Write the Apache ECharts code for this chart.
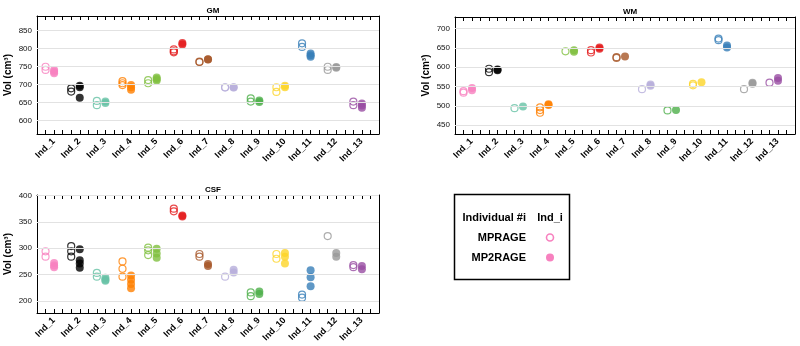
<!DOCTYPE html>
<html>
<head>
<meta charset="utf-8">
<script src="https://cdn.jsdelivr.net/npm/echarts@6/dist/echarts.min.js"></script>
<style>html,body{margin:0;padding:0;background:#fff}#c{width:800px;height:346px}</style>
</head>
<body>
<div id="c"></div>
<script>
const IND_LABELS = ['Ind_1','Ind_2','Ind_3','Ind_4','Ind_5','Ind_6','Ind_7','Ind_8','Ind_9','Ind_10','Ind_11','Ind_12','Ind_13'];
const COLORS = ['#f781bf','#000000','#66c2a5','#ff7f00','#7fbf3f','#e41a1c','#a65628','#b6aedb','#4daf4a','#fcd528','#377eb8','#999999','#984ea3'];

const GM_TICKS = [600,650,700,750,800,850];
const WM_TICKS = [450,500,550,600,650,700];
const CSF_TICKS = [200,250,300,350,400];

const GM_MPRAGE  = [[749,740],[689,680],[654,642],[709,703,698],[712,703],[797,792,789],[763,762],[692,691],[661,652],[692,679],[814,804],[749,740],[652,642]];
const GM_MP2RAGE = [[740,735,731],[696,692,663],[652,648],[698,692,685],[719,715,711],[815,811],[770,769],[692,691],[655,651],[696,692],[786,781,777],[748,746],[647,641,635]];

const WM_MPRAGE  = [[538,534],[596,587],[494],[496,489,482],[641],[644,638],[626,624],[543],[488],[557,553],[674,670],[543],[560]];
const WM_MP2RAGE = [[546,540],[594,592],[498],[504,502],[644,640],[651,648],[628],[552,555],[489],[561],[656,651],[560,557],[572,565]];

const CSF_MPRAGE  = [[294,284],[304,294,284],[253,246],[275,261,246],[301,296,287],[375,370],[289,284],[246],[216,209],[289,280],[212,206],[323],[268,264]];
const CSF_MP2RAGE = [[272,267,264],[298,277,271,263],[244,240,238],[248,240,232,224],[299,290,282],[362,360],[270,266],[259,254],[218,213],[291,284,271],[258,245,228],[291,284],[266,260]];

const X_MIN = 0.5, X_MAX = 13.8333;
const X_TICKS = [];
for (let k = 0; 0.5 + k/3 <= X_MAX + 1e-6; k++) X_TICKS.push(0.5 + k/3);
const LABEL_SHIFT = 0.15;
const X_LABEL_POS = IND_LABELS.map((_, i) => i + 1 + LABEL_SHIFT);

const PANELS = [
  {title:'GM',  mp:GM_MPRAGE,  mp2:GM_MP2RAGE,  ticks:GM_TICKS,  min:562, max:890, grid:{left:37, top:16, width:342, height:118}},
  {title:'WM',  mp:WM_MPRAGE,  mp2:WM_MP2RAGE,  ticks:WM_TICKS,  min:427, max:730, grid:{left:455, top:17, width:340, height:117}},
  {title:'CSF', mp:CSF_MPRAGE, mp2:CSF_MP2RAGE, ticks:CSF_TICKS, min:177, max:401, grid:{left:37, top:195, width:342, height:118}}
];

const FONT = 'Liberation Sans, Arial, sans-serif';
const grids = [], xAxes = [], yAxes = [], series = [], titles = [];

PANELS.forEach((p, g) => {
  grids.push(Object.assign({containLabel:false}, p.grid));
  titles.push({text:p.title, left:p.grid.left + p.grid.width/2, top:p.grid.top - 14, textAlign:'center',
    textStyle:{fontSize:8, fontWeight:'bold', fontFamily:FONT, color:'#000'}});
  const axLine = {show:true, onZero:false, lineStyle:{color:'#000', width:1}};
  xAxes.push({gridIndex:g, type:'value', position:'bottom', min:X_MIN, max:X_MAX, axisLine:axLine,
    axisTick:{show:true, inside:true, length:4, customValues:X_TICKS, lineStyle:{color:'#000'}},
    axisLabel:{show:true, customValues:X_LABEL_POS, rotate:45, margin:6, fontSize:9, fontWeight:'bold', fontFamily:FONT, color:'#000',
      formatter:v => IND_LABELS[Math.round(v - LABEL_SHIFT) - 1] || ''},
    splitLine:{show:false}});
  xAxes.push({gridIndex:g, type:'value', position:'top', min:X_MIN, max:X_MAX, axisLine:axLine,
    axisTick:{show:true, inside:true, length:4, customValues:X_TICKS, lineStyle:{color:'#000'}},
    axisLabel:{show:false}, splitLine:{show:false}});
  yAxes.push({gridIndex:g, type:'value', position:'left', min:p.min, max:p.max, axisLine:axLine,
    axisTick:{show:true, inside:true, length:3, customValues:p.ticks, lineStyle:{color:'#000'}},
    axisLabel:{show:true, customValues:p.ticks, margin:5, fontSize:8, fontFamily:FONT, color:'#111'},
    splitLine:{show:false},
    name:'Vol (cm³)', nameLocation:'middle', nameGap:24,
    nameTextStyle:{fontSize:10, fontWeight:'bold', fontFamily:FONT, color:'#000'}});
  yAxes.push({gridIndex:g, type:'value', position:'right', min:p.min, max:p.max, axisLine:axLine,
    axisTick:{show:true, inside:true, length:4, customValues:p.ticks, lineStyle:{color:'#000'}},
    axisLabel:{show:false}, splitLine:{show:false}});
  const xi = g*2, yi = g*2;
  series.push({type:'scatter', xAxisIndex:xi, yAxisIndex:yi, data:[], z:1, silent:true,
    markLine:{silent:true, symbol:'none', animation:false, label:{show:false},
      lineStyle:{color:'#e2e2e2', width:1, type:'solid'},
      data:p.ticks.filter(v => v < p.max).map(v => ({yAxis:v}))}});
  const mpData = [], mp2Data = [];
  p.mp.forEach((vals, i) => vals.forEach(v => mpData.push({value:[i + 1 - 1/6, v],
    itemStyle:{color:'rgba(255,255,255,0)', borderColor:COLORS[i], borderWidth:1.2}})));
  p.mp2.forEach((vals, i) => vals.forEach(v => mp2Data.push({value:[i + 1 + 1/6, v],
    itemStyle:{color:COLORS[i], borderWidth:0}})));
  series.push({name:'MPRAGE', type:'scatter', xAxisIndex:xi, yAxisIndex:yi, symbol:'circle', symbolSize:7, data:mpData, z:3, animation:false});
  series.push({name:'MP2RAGE', type:'scatter', xAxisIndex:xi, yAxisIndex:yi, symbol:'circle', symbolSize:8, data:mp2Data, z:3, animation:false});
});

const legendText = {fontSize:11, fontWeight:'bold', fontFamily:FONT, fill:'#000'};
const chart = echarts.init(document.getElementById('c'), null, {renderer:'canvas'});
chart.setOption({
  animation:false,
  backgroundColor:'#fff',
  title:titles,
  grid:grids, xAxis:xAxes, yAxis:yAxes, series:series,
  graphic:[
    {type:'rect', shape:{x:454.5, y:194.5, width:115, height:85}, style:{fill:'#fff', stroke:'#000', lineWidth:1.5}},
    {type:'text', x:526, y:218, style:Object.assign({text:'Individual #i', align:'right', verticalAlign:'middle'}, legendText)},
    {type:'text', x:550, y:218, style:Object.assign({text:'Ind_i', align:'center', verticalAlign:'middle'}, legendText)},
    {type:'text', x:526, y:237.5, style:Object.assign({text:'MPRAGE', align:'right', verticalAlign:'middle'}, legendText)},
    {type:'text', x:526, y:257.5, style:Object.assign({text:'MP2RAGE', align:'right', verticalAlign:'middle'}, legendText)},
    {type:'circle', shape:{cx:550, cy:237.5, r:3.5}, style:{fill:'none', stroke:COLORS[0], lineWidth:1.6}},
    {type:'circle', shape:{cx:550, cy:257.5, r:4}, style:{fill:COLORS[0]}}
  ]
});
</script>
</body>
</html>
